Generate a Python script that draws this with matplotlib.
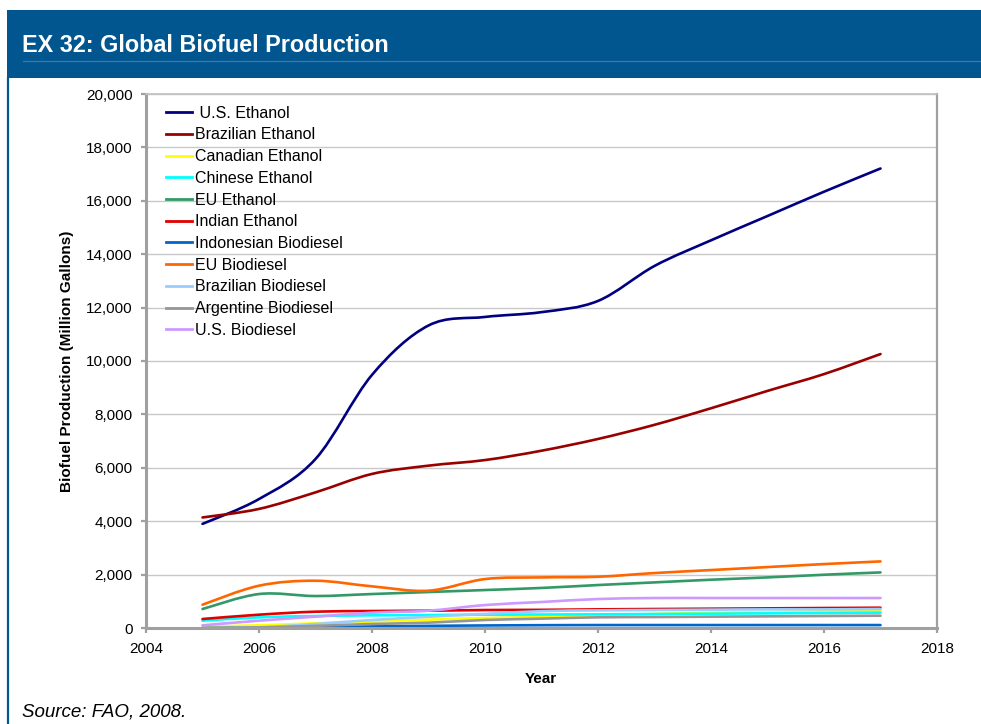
import matplotlib
matplotlib.use("Agg")
import matplotlib.pyplot as plt
from matplotlib.path import Path
from matplotlib.patches import PathPatch, Rectangle
from matplotlib.lines import Line2D

plt.rcParams['font.family'] = ['Liberation Sans', 'DejaVu Sans']

years = [2005, 2006, 2007, 2008, 2009, 2010, 2011, 2012, 2013, 2014, 2015, 2016, 2017]

us_ethanol = [3900, 4830, 6330, 9480, 11330, 11650, 11830, 12250, 13560, 14520, 15430, 16340, 17210]
brazilian_ethanol = [4140, 4460, 5080, 5770, 6080, 6290, 6640, 7080, 7610, 8230, 8880, 9510, 10260]
canadian_ethanol = [50, 100, 175, 237, 312, 374, 411, 474, 524, 574, 599, 624, 636]
chinese_ethanol = [274, 399, 449, 474, 486, 499, 505, 511, 524, 536, 549, 561, 574]
eu_ethanol = [711, 1272, 1197, 1272, 1347, 1422, 1500, 1609, 1708, 1808, 1895, 1995, 2082]
indian_ethanol = [337, 499, 611, 636, 648, 673, 680, 698, 711, 723, 736, 748, 760]
indonesian_biodiesel = [0, 10, 30, 60, 80, 95, 105, 110, 110, 110, 110, 110, 110]
eu_biodiesel = [873, 1584, 1770, 1560, 1397, 1833, 1895, 1920, 2058, 2170, 2282, 2394, 2494]
brazilian_biodiesel = [0, 25, 150, 300, 420, 530, 630, 661, 673, 686, 698, 698, 711]
argentine_biodiesel = [0, 20, 80, 150, 200, 300, 350, 400, 411, 424, 436, 449, 461]
us_biodiesel = [100, 274, 424, 574, 648, 860, 973, 1085, 1122, 1122, 1122, 1122, 1122]

series_names = [" U.S. Ethanol", "Brazilian Ethanol", "Canadian Ethanol", "Chinese Ethanol",
                "EU Ethanol", "Indian Ethanol", "Indonesian Biodiesel", "EU Biodiesel",
                "Brazilian Biodiesel", "Argentine Biodiesel", "U.S. Biodiesel"]
series_values = [us_ethanol, brazilian_ethanol, canadian_ethanol, chinese_ethanol,
                 eu_ethanol, indian_ethanol, indonesian_biodiesel, eu_biodiesel,
                 brazilian_biodiesel, argentine_biodiesel, us_biodiesel]
series_colors = ["#000080", "#990000", "#FFFF00", "#00FFFF", "#339966", "#E00000",
                 "#0066CC", "#FF6600", "#99CCFF", "#969696", "#CC99FF"]

y_ticks = [0, 2000, 4000, 6000, 8000, 10000, 12000, 14000, 16000, 18000, 20000]
x_ticks = [2004, 2006, 2008, 2010, 2012, 2014, 2016, 2018]


def smooth_path(xs, ys):
    """Excel-style smoothed line (Catmull-Rom converted to cubic Bezier)."""
    n = len(xs)
    verts = [(xs[0], ys[0])]
    codes = [Path.MOVETO]
    for i in range(n - 1):
        x0, y0 = (xs[i - 1], ys[i - 1]) if i > 0 else (xs[i], ys[i])
        x1, y1 = xs[i], ys[i]
        x2, y2 = xs[i + 1], ys[i + 1]
        x3, y3 = (xs[i + 2], ys[i + 2]) if i + 2 < n else (xs[i + 1], ys[i + 1])
        c1 = (x1 + (x2 - x0) / 6.0, y1 + (y2 - y0) / 6.0)
        c2 = (x2 - (x3 - x1) / 6.0, y2 - (y3 - y1) / 6.0)
        verts += [c1, c2, (x2, y2)]
        codes += [Path.CURVE4] * 3
    return Path(verts, codes)


W, H = 981, 724
fig = plt.figure(figsize=(W / 100, H / 100), dpi=100)

# header band
header_color = "#02568F"
fig.patches.append(Rectangle((7 / W, 1 - 78 / H), 1, 68 / H, transform=fig.transFigure,
                             facecolor=header_color, edgecolor="none", zorder=0))
fig.lines.append(Line2D([23 / W, 1], [1 - 61 / H, 1 - 61 / H], transform=fig.transFigure,
                        color="#3C7AAE", lw=0.9))
fig.lines.append(Line2D([7.5 / W, 7.5 / W], [0, 1 - 78 / H], transform=fig.transFigure,
                        color=header_color, lw=1.6))
fig.text(22 / W, 1 - 45 / H, "EX 32: Global Biofuel Production", color="white",
         fontsize=16.8, fontweight="bold", va="center", ha="left")

ax = fig.add_axes([146 / W, 1 - 628 / H, (937 - 146) / W, (628 - 94) / H])
ax.set_xlim(2004, 2018)
ax.set_ylim(0, 20000)
ax.set_xticks(x_ticks)
ax.set_xticklabels([str(t) for t in x_ticks])
ax.set_yticks(y_ticks)
ax.set_yticklabels([f"{t:,}" for t in y_ticks])
ax.grid(axis="y", color="#C8C8C8", lw=1.0)
ax.set_axisbelow(True)

for s in ["left", "bottom"]:
    ax.spines[s].set_color("#A0A0A0")
    ax.spines[s].set_linewidth(2.2)
ax.spines["right"].set_color("#A0A0A0")
ax.spines["right"].set_linewidth(1.6)
ax.spines["top"].set_color("#C0C0C0")
ax.spines["top"].set_linewidth(1.2)

ax.tick_params(axis="both", direction="out", length=3.8, width=1.6, color="#A0A0A0",
               labelsize=11, labelcolor="black")
ax.tick_params(axis="y", pad=6)
ax.tick_params(axis="x", pad=6)

handles = []
for name, vals, col in zip(series_names, series_values, series_colors):
    p = smooth_path(years, vals)
    ax.add_patch(PathPatch(p, facecolor="none", edgecolor=col, lw=1.9,
                           capstyle="round", joinstyle="round"))
    handles.append(Line2D([], [], color=col, lw=2.0))

ax.legend(handles, series_names, loc="upper left", bbox_to_anchor=(0.025, 0.978),
          frameon=False, fontsize=11.5, handlelength=1.65, handletextpad=0.2,
          labelspacing=0.42, borderpad=0, borderaxespad=0)

fig.text(67 / W, 1 - 361 / H, "Biofuel Production (Million Gallons)", rotation=90,
         fontsize=11, fontweight="bold", ha="center", va="center")
fig.text(541 / W, 1 - 679 / H, "Year", fontsize=11, fontweight="bold",
         ha="center", va="center")
fig.text(22 / W, 1 - 712 / H, "Source: FAO, 2008.", fontsize=13.5, fontstyle="italic",
         ha="left", va="center")

fig.savefig("out.png", dpi=100)
